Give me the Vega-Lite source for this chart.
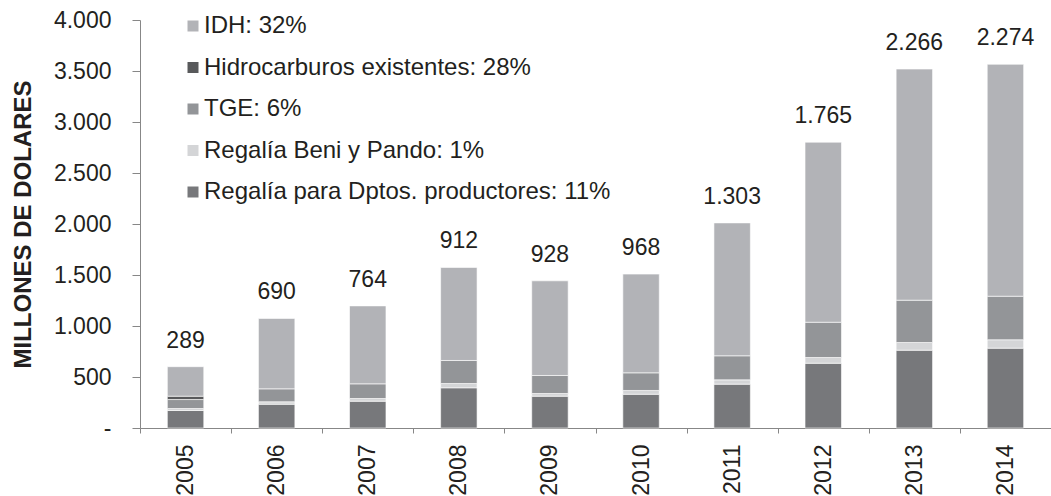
{
  "$schema": "https://vega.github.io/schema/vega-lite/v6.json",
  "autosize": "none",
  "width": 911,
  "height": 408,
  "padding": {"left": 140, "top": 20, "right": 0, "bottom": 68},
  "background": "white",
  "config": {
    "font": "Liberation Sans",
    "view": {"stroke": null},
    "axis": {
      "domainColor": "#878787",
      "tickColor": "#878787",
      "labelColor": "#231f20",
      "titleColor": "#231f20",
      "labelFontSize": 23,
      "labelFont": "Liberation Sans",
      "titleFont": "Liberation Sans",
      "grid": false
    }
  },
  "data": {
    "values": [
      {"anio": "2005", "serie": "Regalía para Dptos. productores: 11%", "valor": 172},
      {"anio": "2005", "serie": "Regalía Beni y Pando: 1%", "valor": 19},
      {"anio": "2005", "serie": "TGE: 6%", "valor": 88},
      {"anio": "2005", "serie": "Hidrocarburos existentes: 28%", "valor": 33},
      {"anio": "2005", "serie": "IDH: 32%", "valor": 289},
      {"anio": "2006", "serie": "Regalía para Dptos. productores: 11%", "valor": 233},
      {"anio": "2006", "serie": "Regalía Beni y Pando: 1%", "valor": 24},
      {"anio": "2006", "serie": "TGE: 6%", "valor": 127},
      {"anio": "2006", "serie": "IDH: 32%", "valor": 690},
      {"anio": "2007", "serie": "Regalía para Dptos. productores: 11%", "valor": 263},
      {"anio": "2007", "serie": "Regalía Beni y Pando: 1%", "valor": 26},
      {"anio": "2007", "serie": "TGE: 6%", "valor": 144},
      {"anio": "2007", "serie": "IDH: 32%", "valor": 764},
      {"anio": "2008", "serie": "Regalía para Dptos. productores: 11%", "valor": 394},
      {"anio": "2008", "serie": "Regalía Beni y Pando: 1%", "valor": 42},
      {"anio": "2008", "serie": "TGE: 6%", "valor": 226},
      {"anio": "2008", "serie": "IDH: 32%", "valor": 912},
      {"anio": "2009", "serie": "Regalía para Dptos. productores: 11%", "valor": 312},
      {"anio": "2009", "serie": "Regalía Beni y Pando: 1%", "valor": 26},
      {"anio": "2009", "serie": "TGE: 6%", "valor": 177},
      {"anio": "2009", "serie": "IDH: 32%", "valor": 928},
      {"anio": "2010", "serie": "Regalía para Dptos. productores: 11%", "valor": 331},
      {"anio": "2010", "serie": "Regalía Beni y Pando: 1%", "valor": 37},
      {"anio": "2010", "serie": "TGE: 6%", "valor": 173},
      {"anio": "2010", "serie": "IDH: 32%", "valor": 968},
      {"anio": "2011", "serie": "Regalía para Dptos. productores: 11%", "valor": 430},
      {"anio": "2011", "serie": "Regalía Beni y Pando: 1%", "valor": 42},
      {"anio": "2011", "serie": "TGE: 6%", "valor": 236},
      {"anio": "2011", "serie": "IDH: 32%", "valor": 1303},
      {"anio": "2012", "serie": "Regalía para Dptos. productores: 11%", "valor": 635},
      {"anio": "2012", "serie": "Regalía Beni y Pando: 1%", "valor": 56},
      {"anio": "2012", "serie": "TGE: 6%", "valor": 346},
      {"anio": "2012", "serie": "IDH: 32%", "valor": 1765},
      {"anio": "2013", "serie": "Regalía para Dptos. productores: 11%", "valor": 763},
      {"anio": "2013", "serie": "Regalía Beni y Pando: 1%", "valor": 75},
      {"anio": "2013", "serie": "TGE: 6%", "valor": 415},
      {"anio": "2013", "serie": "IDH: 32%", "valor": 2266},
      {"anio": "2014", "serie": "Regalía para Dptos. productores: 11%", "valor": 783},
      {"anio": "2014", "serie": "Regalía Beni y Pando: 1%", "valor": 82},
      {"anio": "2014", "serie": "TGE: 6%", "valor": 427},
      {"anio": "2014", "serie": "IDH: 32%", "valor": 2274}
    ]
  },
  "transform": [
    {"calculate": "indexof(['IDH: 32%', 'Hidrocarburos existentes: 28%', 'TGE: 6%', 'Regalía Beni y Pando: 1%', 'Regalía para Dptos. productores: 11%'], datum.serie)", "as": "rango"}
  ],
  "encoding": {
    "x": {
      "field": "anio",
      "type": "nominal",
      "scale": {"paddingInner": 0, "paddingOuter": 0},
      "axis": {
        "title": null,
        "labelAngle": -90,
        "tickBand": "extent",
        "tickSize": 5,
        "labelPadding": 11
      }
    }
  },
  "layer": [
    {
      "mark": {"type": "bar", "width": {"band": 0.4}, "stroke": "white", "strokeWidth": 0.6},
      "encoding": {
        "y": {
          "field": "valor",
          "type": "quantitative",
          "stack": "zero",
          "scale": {"domain": [0, 4000]},
          "title": "MILLONES DE DOLARES",
          "axis": {
            "values": [0, 500, 1000, 1500, 2000, 2500, 3000, 3500, 4000],
            "labelExpr": "datum.value == 0 ? '-' : replace(format(datum.value, ','), ',', '.')",
            "tickSize": 8,
            "labelPadding": 21,
            "titleFontSize": 24,
            "titleFontWeight": "bold",
            "titlePadding": 18
          }
        },
        "color": {
          "field": "serie",
          "type": "nominal",
          "scale": {
            "domain": ["IDH: 32%", "Hidrocarburos existentes: 28%", "TGE: 6%", "Regalía Beni y Pando: 1%", "Regalía para Dptos. productores: 11%"],
            "range": ["#b2b3b7", "#58595b", "#939598", "#d4d5d7", "#77787b"]
          },
          "legend": {
            "title": null,
            "orient": "none",
            "legendX": 41,
            "legendY": -6,
            "symbolType": "square",
            "symbolSize": 121,
            "symbolStrokeWidth": 0,
            "labelFontSize": 24,
            "labelColor": "#231f20",
            "labelOffset": -1,
            "labelLimit": 700,
            "rowPadding": 17.5
          }
        },
        "order": {"field": "rango", "sort": "descending"}
      }
    },
    {
      "transform": [
        {"joinaggregate": [{"op": "sum", "field": "valor", "as": "total"}], "groupby": ["anio"]},
        {"filter": "datum.serie === 'IDH: 32%'"},
        {"calculate": "replace(format(datum.valor, ','), ',', '.')", "as": "etiqueta"}
      ],
      "mark": {"type": "text", "dy": -26, "baseline": "middle", "fontSize": 23, "color": "#231f20"},
      "encoding": {
        "y": {"field": "total", "type": "quantitative", "title": "MILLONES DE DOLARES"},
        "text": {"field": "etiqueta"}
      }
    }
  ]
}
